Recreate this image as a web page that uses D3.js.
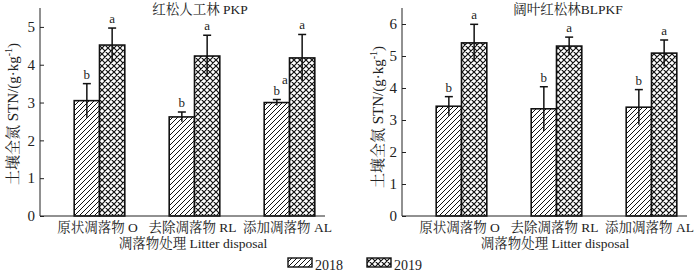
<!DOCTYPE html>
<html><head><meta charset="utf-8">
<script src="https://cdn.jsdelivr.net/npm/d3@7"></script>
<style>
body{margin:0;background:#fff;}
svg{display:block;font-family:"Liberation Serif","Noto Serif CJK SC","Noto Sans CJK SC",serif;}
</style></head>
<body><svg id="chart" width="700" height="275"></svg>
<script>
// ---- data ----
const categories = ["原状凋落物 O", "去除凋落物 RL", "添加凋落物 AL"];
const years = ["2018", "2019"];
const pkp2018 = [3.05, 2.62, 3.00];
const pkp2018Err = [0.45, 0.13, 0.08];
const pkp2019 = [4.52, 4.23, 4.18];
const pkp2019Err = [0.45, 0.55, 0.62];
const pkpLetters2018 = ["b", "b", "b"];
const pkpLetters2019 = ["a", "a", "a"];
const blpkf2018 = [3.43, 3.35, 3.40];
const blpkf2018Err = [0.30, 0.69, 0.55];
const blpkf2019 = [5.41, 5.31, 5.09];
const blpkf2019Err = [0.58, 0.28, 0.41];
const blpkfLetters2018 = ["b", "b", "b"];
const blpkfLetters2019 = ["a", "a", "a"];
const pkpTicks = [0, 1, 2, 3, 4, 5];
const blpkfTicks = [0, 1, 2, 3, 4, 5, 6];
const titles = ["红松人工林 PKP", "阔叶红松林BLPKF"];
const yLabel = "土壤全氮 STN/(g·kg";
const xLabel = "凋落物处理 Litter disposal";

const svg = d3.select("#chart");
const defs = svg.append("defs");
const p1 = defs.append("pattern").attr("id","hatch").attr("patternUnits","userSpaceOnUse")
  .attr("width",5).attr("height",5);
p1.append("rect").attr("width",5).attr("height",5).attr("fill","#fff");
p1.append("path").attr("d","M0,5 L5,0 M-1,1 L1,-1 M4,6 L6,4").attr("stroke","#111").attr("stroke-width",1);
const p2 = defs.append("pattern").attr("id","cross").attr("patternUnits","userSpaceOnUse")
  .attr("width",6).attr("height",6);
p2.append("rect").attr("width",6).attr("height",6).attr("fill","#fff");
p2.append("path").attr("d","M0,6 L6,0 M-1,1 L1,-1 M5,7 L7,5 M0,0 L6,6 M-1,5 L1,7 M5,-1 L7,1")
  .attr("stroke","#111").attr("stroke-width",1.2);
const fills = ["url(#hatch)", "url(#cross)"];

function panel(cfg){
  const x0 = cfg.x0, bottom = 216, top = 8;
  const y = d3.scaleLinear().domain([0, cfg.ymax]).range([bottom, top]);
  const xp = d3.scalePoint().domain(categories).range([x0+59.5, x0+249.5]);
  const g = svg.append("g");
  const bw = 25.3;
  const series = [
    {vals: cfg.v18, err: cfg.e18, let: cfg.l18, off: -bw, fill: fills[0]},
    {vals: cfg.v19, err: cfg.e19, let: cfg.l19, off: 0, fill: fills[1]}
  ];
  series.forEach(s => {
    categories.forEach((c,i) => {
      const xl = xp(c) + s.off;
      g.append("rect").attr("x", xl).attr("y", y(s.vals[i]))
        .attr("width", bw).attr("height", y(0)-y(s.vals[i]))
        .attr("fill", s.fill).attr("stroke","#111").attr("stroke-width",1.6);
      const cx = xl + bw/2;
      const hi = s.vals[i] + s.err[i], lo = s.vals[i] - s.err[i];
      g.append("line").attr("x1",cx).attr("x2",cx).attr("y1",y(lo)).attr("y2",y(hi))
        .attr("stroke","#111").attr("stroke-width",1.5);
      g.append("line").attr("x1",cx-4).attr("x2",cx+4).attr("y1",y(hi)).attr("y2",y(hi))
        .attr("stroke","#111").attr("stroke-width",1.5);
      g.append("text").attr("x",cx).attr("y",y(hi)-5).attr("text-anchor","middle")
        .attr("font-size",13).attr("fill","#222").text(s.let[i]);
    });
  });
  if (cfg.extra) {
    const c = categories[2];
    const cx = xp(c) - bw/2;
    g.append("text").attr("x",cx+8).attr("y",y(cfg.v18[2]+cfg.e18[2])-16)
      .attr("text-anchor","middle").attr("font-size",13).attr("fill","#222").text(cfg.extra);
  }
  // y axis
  const ax = d3.axisRight(y).tickValues(cfg.ticks).tickSize(4).tickFormat(d3.format("d"));
  const ag = g.append("g").attr("transform",`translate(${x0},0)`).call(ax);
  ag.select(".domain").remove();
  ag.selectAll(".tick line").attr("stroke","#222");
  ag.selectAll(".tick text").attr("x",-5).attr("text-anchor","end")
    .attr("font-size",15).attr("font-family","Liberation Serif").attr("fill","#222");
  g.append("line").attr("x1",x0).attr("x2",x0).attr("y1",top).attr("y2",bottom).attr("stroke","#222");
  g.append("line").attr("x1",x0).attr("x2",x0+285).attr("y1",bottom).attr("y2",bottom).attr("stroke","#222");
  // category labels
  categories.forEach(c => {
    g.append("text").attr("x",xp(c)-2).attr("y",232).attr("text-anchor","middle")
      .attr("font-size",13.5).attr("fill","#222").text(c);
  });
  g.append("text").attr("x",x0+153).attr("y",248).attr("text-anchor","middle")
    .attr("font-size",13.5).attr("fill","#222").text(xLabel);
  g.append("text").attr("x",cfg.titleX).attr("y",14).attr("text-anchor","middle")
    .attr("font-size",13.5).attr("fill","#222").text(cfg.title);
  const yl = g.append("text").attr("transform",`translate(${cfg.ylx},${cfg.yly}) rotate(-90)`)
    .attr("text-anchor","middle").attr("font-size",15).attr("fill","#222");
  yl.append("tspan").text(yLabel);
  yl.append("tspan").attr("font-size",10).attr("dy",-6).text("-1");
  yl.append("tspan").attr("dy",6).text(")");
}

panel({x0:40, ymax:5.5, ticks:pkpTicks, v18:pkp2018, e18:pkp2018Err, v19:pkp2019, e19:pkp2019Err,
  l18:pkpLetters2018, l19:pkpLetters2019, title:titles[0], titleX:200, ylx:18, yly:114, extra:"a"});
panel({x0:402, ymax:6.5, ticks:blpkfTicks, v18:blpkf2018, e18:blpkf2018Err, v19:blpkf2019, e19:blpkf2019Err,
  l18:blpkfLetters2018, l19:blpkfLetters2019, title:titles[1], titleX:568, ylx:383, yly:117});

// legend
const lg = svg.append("g");
years.forEach((yr,i) => {
  const lx = i===0 ? 288 : 367;
  lg.append("rect").attr("x",lx).attr("y",258).attr("width",24).attr("height",9)
    .attr("fill",fills[i]).attr("stroke","#111").attr("stroke-width",1.4);
  lg.append("text").attr("x",lx+27).attr("y",270).attr("font-size",14).attr("fill","#222").text(yr);
});
</script></body></html>
